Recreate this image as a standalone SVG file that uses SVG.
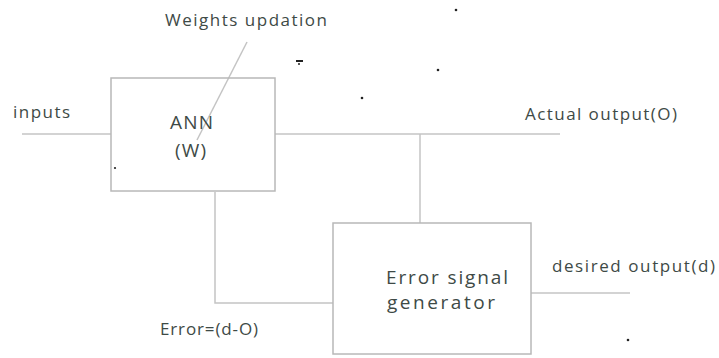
<svg xmlns="http://www.w3.org/2000/svg" width="719" height="358" viewBox="0 0 719 358">
  <style>
    .box { fill: none; stroke: #b8b8b8; stroke-width: 1.5; }
    .wire { fill: none; stroke: #c4c4c4; stroke-width: 1.5; }
    .lbl { font-family: "Open Sans", "Liberation Sans", sans-serif; font-size: 17px; fill: #3e4a46; }
    .big { font-size: 19px; }
    .speck { fill: #222; }
  </style>
  <rect width="719" height="358" fill="#ffffff"/>

  <g id="connectors">
    <line class="wire" x1="22" y1="134" x2="111" y2="134"/>
    <line class="wire" x1="275" y1="134" x2="560" y2="134"/>
    <line class="wire" x1="420" y1="134" x2="420" y2="223"/>
    <line class="wire" x1="531" y1="293" x2="630" y2="293"/>
    <polyline class="wire" points="215,192 215,303 333,303"/>
    <line class="wire" x1="247" y1="42" x2="197" y2="140"/>
  </g>

  <g id="ann">
    <rect class="box" x="111" y="78" width="164" height="113"/>
    <text class="lbl big" x="170" y="129" textLength="43">ANN</text>
    <text class="lbl big" x="175" y="157" textLength="31">(W)</text>
  </g>

  <g id="error-signal-generator">
    <rect class="box" x="333" y="223" width="198" height="131"/>
    <text class="lbl big" x="386" y="284" textLength="122">Error signal</text>
    <text class="lbl big" x="387" y="309" textLength="108">generator</text>
  </g>

  <g id="labels">
    <text class="lbl" x="13" y="118" textLength="57">inputs</text>
    <text class="lbl" x="165" y="26" textLength="162">Weights updation</text>
    <text class="lbl" x="525" y="120" textLength="152">Actual output(O)</text>
    <text class="lbl" x="552" y="272" textLength="163">desired output(d)</text>
    <text class="lbl" x="160" y="335" textLength="98">Error=(d-O)</text>
  </g>

  <g id="specks">
    <rect class="speck" x="296" y="60" width="7" height="2"/>
    <circle class="speck" cx="299" cy="64" r="1"/>
    <circle class="speck" cx="456" cy="10" r="1.3"/>
    <circle class="speck" cx="438" cy="70" r="1.3"/>
    <circle class="speck" cx="362" cy="98" r="1.3"/>
    <circle class="speck" cx="115" cy="168" r="1.1"/>
    <circle class="speck" cx="628" cy="340" r="1.3"/>
  </g>
</svg>
